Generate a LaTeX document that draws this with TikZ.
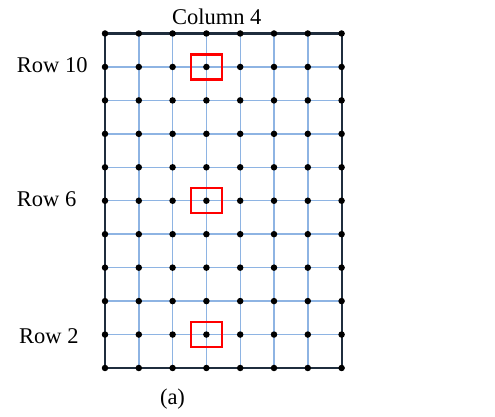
\documentclass[tikz,border=0pt]{standalone}
\usepackage{fontspec}
\setmainfont{Liberation Serif}
\definecolor{gridBlue}{HTML}{8EB4E3}
\definecolor{frameDark}{HTML}{1F2D3D}
\tikzset{
  dot/.style={circle, fill=black, inner sep=0pt, minimum size=6.5pt},
  grid_edge/.style={line width=1.4pt, draw=gridBlue},
  frame_edge/.style={line width=2.2pt, draw=frameDark},
  red_box/.style={draw=red, line width=2.4pt, minimum width=31pt, minimum height=25pt, inner sep=0pt},
  big_text/.style={font=\fontsize{22.5}{27}\selectfont, inner sep=0pt}
}
\begin{document}
\begin{tikzpicture}[x=1pt, y=1pt]
        \useasboundingbox (0, 0) rectangle (495, 417);
        % grid points: column i, row k
        \foreach \i in {1,...,8} {
          \foreach \k in {1,...,11} {
            \coordinate (p-\i-\k) at ({105 + 33.8*(\i-1)}, {49 + 33.45*(\k-1)});
          }
        }
        \foreach \k in {2,...,10} {
          \draw[grid_edge] (p-1-\k) -- (p-8-\k);
        }
        \foreach \i in {2,...,7} {
          \draw[grid_edge] (p-\i-1) -- (p-\i-11);
        }
        \draw[frame_edge] (p-1-1) rectangle (p-8-11);
        \foreach \i in {1,...,8} {
          \foreach \k in {1,...,11} {
            \node[dot] (d-\i-\k) at (p-\i-\k) {};
          }
        }
        \node[red_box] (box10) at (p-4-10) {};
        \node[red_box] (box6) at (p-4-6) {};
        \node[red_box] (box2) at (p-4-2) {};
        \node[big_text, anchor=base] (col4) at (216.7, 392.7) {Column 4};
        \node[big_text, anchor=base west] (row10) at (16.7, 344.7) {Row 10};
        \node[big_text, anchor=base west] (row6) at (16.7, 210.3) {Row 6};
        \node[big_text, anchor=base west] (row2) at (19, 73.7) {Row 2};
        \node[big_text, anchor=base] (cap) at (172.5, 12.7) {(a)};
    \end{tikzpicture}
\end{document}
